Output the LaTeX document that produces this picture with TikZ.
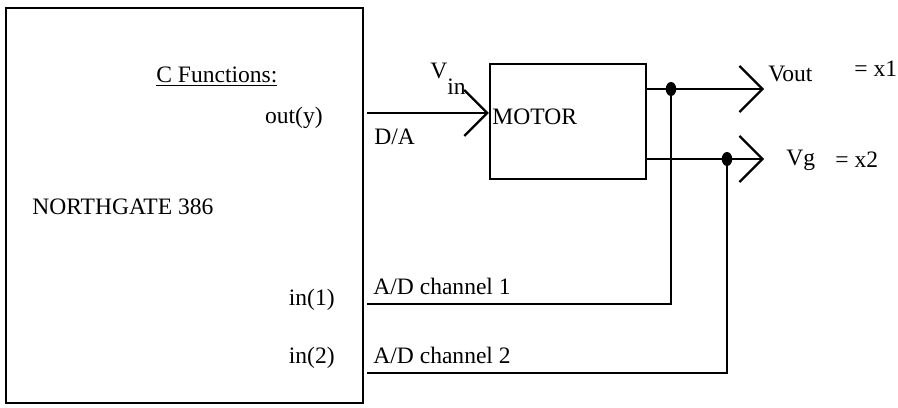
\documentclass[tikz,border=0pt]{standalone}
\usepackage{fontspec}
\setmainfont{Liberation Serif}
\usetikzlibrary{arrows.meta,shapes.geometric}
\tikzset{
  block/.style={draw=black,line width=1.3pt,inner sep=0pt},
  wire/.style={draw=black,line width=1.3pt},
  sig/.style={wire,-{Straight Barb[length=4.6mm,width=9.2mm]}},
  txt/.style={inner sep=0pt,anchor=base west},
  txtr/.style={inner sep=0pt,anchor=base east},
  dot/.style={ellipse,fill=black,inner sep=0pt,minimum width=2.1mm,minimum height=2.8mm}
}

\begin{document}
\begin{tikzpicture}[x=1cm,y=1cm,font=\fontsize{13.4}{15}\selectfont]
\useasboundingbox (0,0) rectangle (17.96,8.14);
% computer and motor
\node[block,minimum width=7.14cm,minimum height=7.90cm] (pc) at (3.69,4.03) {};
\node[block,minimum width=3.12cm,minimum height=2.30cm] (motor) at (11.36,5.71) {};
\node[txt] (cfun) at (3.12,6.48) {\underline{C Functions:}};
\node[txtr] (outy) at (6.46,5.66) {out(y)};
\node[txt] (ngate) at (0.64,3.84) {NORTHGATE 386};
\node[txtr] (in1) at (6.70,2.04) {in(1)};
\node[txtr] (in2) at (6.70,0.88) {in(2)};
\node[txt] (mlab) at (9.84,5.64) {MOTOR};
% wire ends
\coordinate (da) at (7.34,5.88);
\coordinate (ad1) at (7.34,2.06);
\coordinate (ad2) at (7.34,0.68);
\coordinate (vout) at (15.28,6.36);
\coordinate (vg) at (15.28,4.96);
\node[dot] (j1) at (13.42,6.36) {};
\node[dot] (j2) at (14.54,4.96) {};
% signals
\draw[sig] (da) -- (da -| motor.west);
\draw[sig] (motor.east |- vout) -- (vout);
\draw[sig] (motor.east |- vg) -- (vg);
\draw[wire] (ad1) -| (j1.center);
\draw[wire] (ad2) -| (j2.center);
\node[txt] (vin) at (8.60,6.56) {V\raisebox{-0.67em}{in}};
\node[txt] (dalab) at (7.48,5.24) {D/A};
\node[txt] (ad1lab) at (7.46,2.24) {A/D channel 1};
\node[txt] (ad2lab) at (7.46,0.88) {A/D channel 2};
\node[txt] (voutlab) at (15.36,6.50) {Vout};
\node[txt] (x1lab) at (17.08,6.60) {= x1};
\node[txt] (vglab) at (15.72,4.82) {Vg};
\node[txt] (x2lab) at (16.70,4.78) {= x2};
\end{tikzpicture}
\end{document}
